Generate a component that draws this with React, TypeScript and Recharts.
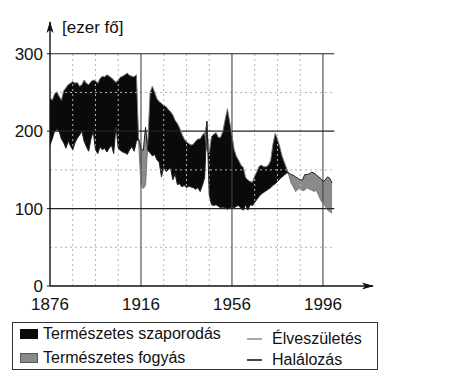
import {
  ComposedChart,
  Area,
  Line,
  XAxis,
  YAxis,
  ReferenceLine,
  ReferenceDot,
} from 'recharts';

// thousand persons per year, 1876-2000
const births = [
  243, 240, 248, 251, 245, 240, 252, 256, 260, 262, 264, 262, 263, 258, 260, 266, 262, 260, 264, 266,
  265, 262, 268, 271, 270, 273, 271, 269, 266, 263, 266, 270, 271, 273, 275, 272, 271, 270, 273, 185,
  130, 126, 130, 185, 250, 258, 250, 242, 238, 236, 233, 232, 228, 225, 221, 214, 210, 204, 196, 190,
  186, 184, 182, 183, 187, 190, 190, 195, 198, 175, 172, 193, 196, 198, 192, 192, 200, 215, 229, 212,
  195, 176, 167, 162, 156, 153, 140, 137, 135, 134, 142, 148, 155, 156, 154, 154, 156, 162, 183, 197,
  190, 180, 168, 160, 152, 143, 133, 128, 122, 125, 127, 123, 124, 127, 125, 124, 122, 124, 118, 111,
  107, 103, 98, 96, 94,
];
const deaths = [
  182, 190, 200, 202, 200, 190, 185, 178, 187, 181, 176, 185, 191, 195, 200, 187, 180, 174, 190, 200,
  176, 171, 180, 176, 178, 173, 178, 182, 171, 206, 178, 175, 173, 172, 170, 176, 180, 174, 187, 190,
  178, 175, 205, 175, 172, 168, 170, 163, 160, 141, 154, 148, 150, 153, 137, 145, 131, 132, 128, 130,
  127, 129, 128, 127, 125, 127, 122, 130, 140, 213, 118, 105, 104, 105, 103, 101, 102, 101, 99, 101,
  102, 101, 103, 104, 100, 98, 105, 98, 105, 104, 108, 112, 116, 119, 121, 123, 125, 127, 130, 132,
  135, 138, 141, 143, 146, 146, 144, 143, 141, 139, 137, 137, 144, 144, 145, 147, 146, 144, 141, 139,
  135, 137, 141, 139, 133,
];
const firstYear = 1876;
const years = births.map((_, i) => firstYear + i);

const xTicks = [1876, 1916, 1956, 1996];
const yTicks = [0, 100, 200, 300];
const solidY = [100, 200, 300];
const dottedY = [50, 150, 250];
const solidX = [1916, 1956, 1996];
const dottedX = [1886, 1896, 1906, 1926, 1936, 1946, 1966, 1976, 1986];

const data = years.map((year, i) => {
  const b = births[i];
  const d = deaths[i];
  const top = Math.max(b, d);
  return { year, birth: b, death: d, increase: [d, top], decrease: [b, top] };
});

const FONT = '"Liberation Sans", Arial, Helvetica, sans-serif';
const X_END = 2018;
const Y_END = 341;
const GRID_END = 2001;

const ArrowRight = (props: any) => (
  <path d={`M${props.cx + 1},${props.cy} L${props.cx - 11},${props.cy - 3.5} L${props.cx - 8},${props.cy} L${props.cx - 11},${props.cy + 3.5} Z`} fill="#111" />
);
const ArrowUp = (props: any) => (
  <path d={`M${props.cx},${props.cy - 1} L${props.cx - 3.5},${props.cy + 11} L${props.cx},${props.cy + 8} L${props.cx + 3.5},${props.cy + 11} Z`} fill="#111" />
);

function LegendBox() {
  const row: React.CSSProperties = { position: 'absolute', display: 'flex', alignItems: 'center', fontSize: 16, color: '#111', whiteSpace: 'nowrap' };
  return (
    <div style={{ position: 'absolute', left: 4, top: 314, width: 364, height: 46, border: '1.3px solid #333', fontFamily: FONT }}>
      <div style={{ ...row, left: 7, top: 2, height: 18 }}>
        <span style={{ width: 18, height: 10, background: '#0a0a0a', marginRight: 5 }} />
        Természetes szaporodás
      </div>
      <div style={{ ...row, left: 7, top: 26, height: 18 }}>
        <span style={{ width: 18, height: 10, background: '#8a8a8a', border: '0.5px solid #555', boxSizing: 'border-box', marginRight: 5 }} />
        Természetes fogyás
      </div>
      <div style={{ ...row, left: 234, top: 7, height: 18 }}>
        <span style={{ width: 15, height: 1.5, background: '#aaa', marginRight: 10 }} />
        Élveszületés
      </div>
      <div style={{ ...row, left: 234, top: 28, height: 18 }}>
        <span style={{ width: 15, height: 1.5, background: '#444', marginRight: 10 }} />
        Halálozás
      </div>
    </div>
  );
}

export default function App() {
  return (
    <div style={{ position: 'relative', width: 441, height: 376, fontFamily: FONT, background: '#fff' }}>
      <ComposedChart
        width={441}
        height={376}
        data={data}
        margin={{ top: 14, right: 76, left: 0, bottom: 68 }}
        style={{ fontFamily: FONT }}
      >
        {dottedY.map((v) => (
          <ReferenceLine key={`dy${v}`} segment={[{ x: firstYear, y: v }, { x: GRID_END, y: v }]} stroke="#b5b5b5" strokeDasharray="2 3" />
        ))}
        {dottedX.map((v) => (
          <ReferenceLine key={`dx${v}`} segment={[{ x: v, y: 0 }, { x: v, y: 300 }]} stroke="#b5b5b5" strokeDasharray="2 3" />
        ))}
        {solidX.map((v) => (
          <ReferenceLine key={`sx${v}`} segment={[{ x: v, y: 0 }, { x: v, y: 300 }]} stroke="#444" strokeWidth={1.1} />
        ))}
        {solidY.map((v) => (
          <ReferenceLine key={`sy${v}`} segment={[{ x: firstYear, y: v }, { x: GRID_END, y: v }]} stroke="#222" strokeWidth={1.2} />
        ))}
        <XAxis
          dataKey="year"
          type="number"
          domain={[firstYear, X_END]}
          ticks={xTicks}
          tickLine={false}
          tickSize={4}
          tickMargin={8}
          height={30}
          axisLine={{ stroke: '#111', strokeWidth: 1.4 }}
          tick={{ fontSize: 17, fill: '#111' }}
          allowDataOverflow
        />
        <YAxis
          type="number"
          domain={[0, Y_END]}
          ticks={yTicks}
          width={42}
          tickSize={3}
          tickMargin={4}
          axisLine={{ stroke: '#111', strokeWidth: 1.4 }}
          tickLine={{ stroke: '#111' }}
          tick={{ fontSize: 17, fill: '#111' }}
          allowDataOverflow
        />
        <Line dataKey="birth" stroke="#777" strokeWidth={1} dot={false} isAnimationActive={false} />
        <Line dataKey="death" stroke="#222" strokeWidth={1} dot={false} isAnimationActive={false} />
        <Area dataKey="increase" type="linear" fill="#0a0a0a" fillOpacity={1} stroke="none" isAnimationActive={false} />
        <Area dataKey="decrease" type="linear" fill="#8a8a8a" fillOpacity={1} stroke="none" isAnimationActive={false} />
        <ReferenceDot x={X_END} y={0} r={0} shape={ArrowRight} />
        <ReferenceDot x={firstYear} y={Y_END} r={0} shape={ArrowUp} />
      </ComposedChart>
      <div style={{ position: 'absolute', left: 54, top: 10, fontSize: 17, color: '#111', whiteSpace: 'nowrap' }}>[ezer fő]</div>
      <LegendBox />
    </div>
  );
}
